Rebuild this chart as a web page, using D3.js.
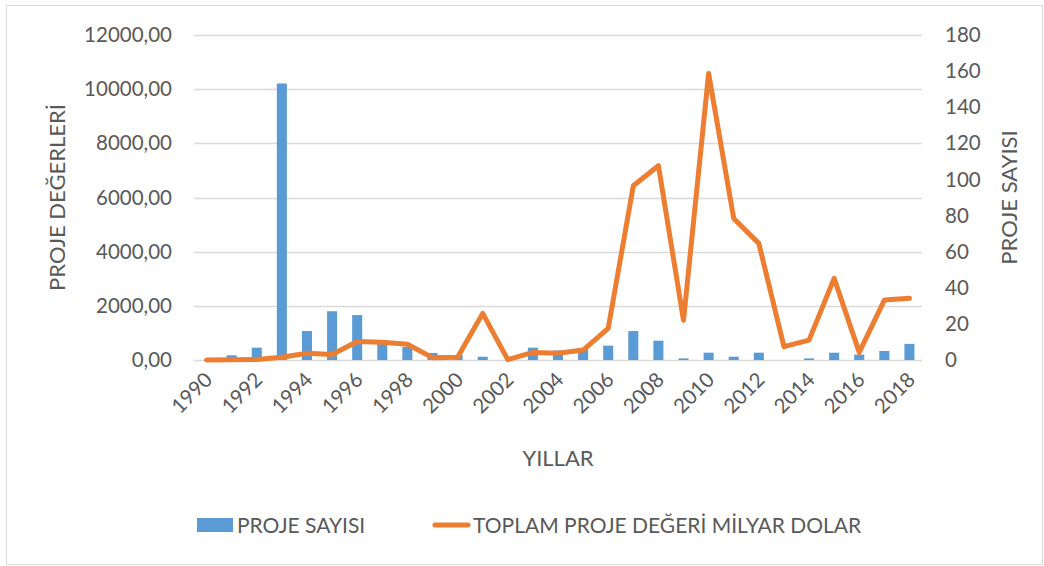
<!DOCTYPE html>
<html>
<head>
<meta charset="utf-8">
<script src="https://cdn.jsdelivr.net/npm/d3@7"></script>
<style>
  html, body { margin: 0; padding: 0; background: #fff; }
  svg text { font-family: "Lato", "Open Sans", sans-serif; fill: #595959; }
</style>
</head>
<body>
<svg id="chart" width="1044" height="566"></svg>
<script>
const years = ["1990","1991","1992","1993","1994","1995","1996","1997","1998","1999",
               "2000","2001","2002","2003","2004","2005","2006","2007","2008","2009",
               "2010","2011","2012","2013","2014","2015","2016","2017","2018"];
// Bars: PROJE SAYISI (left axis)
const projeSayisi = [0, 175, 455, 10210, 1070, 1800, 1660, 620, 480, 260,
                     180, 120, 0, 455, 350, 400, 530, 1070, 713, 60,
                     270, 120, 270, 0, 60, 270, 200, 333, 595];
// Line: TOPLAM PROJE DEĞERİ MİLYAR DOLAR (right axis)
const toplamDeger = [0, 0.2, 0.3, 1.5, 3.7, 3.1, 10.2, 9.8, 8.7, 1.3,
                     1.5, 25.8, 0.2, 4.2, 3.7, 5.5, 17.5, 96.5, 107.6, 22,
                     158.7, 78.4, 64.6, 7.4, 11, 45.2, 4.2, 33.2, 34.2];
const leftTicks = [0, 2000, 4000, 6000, 8000, 10000, 12000];
const rightTicks = [0, 20, 40, 60, 80, 100, 120, 140, 160, 180];
const xLabelYears = years.filter((d, i) => i % 2 === 0);
const seriesNames = ["PROJE SAYISI", "TOPLAM PROJE DEĞERİ MİLYAR DOLAR"];
const axisTitles = { left: "PROJE DEĞERLERİ", right: "PROJE SAYISI", bottom: "YILLAR" };

const svg = d3.select("#chart");
const plot = { left: 194, right: 922, top: 35, bottom: 360 };

// chart border
svg.append("rect").attr("x", 6.5).attr("y", 5.5).attr("width", 1036).attr("height", 559)
  .attr("fill", "#fff").attr("stroke", "#D9D9D9").attr("stroke-width", 1);

const x = d3.scaleBand().domain(years).range([plot.left, plot.right])
  .paddingInner(0.6).paddingOuter(0.3);
const yL = d3.scaleLinear().domain([0, 12000]).range([plot.bottom, plot.top]);
const yR = d3.scaleLinear().domain([0, 180]).range([plot.bottom, plot.top]);

const fmtLeft = d => d3.format(".2f")(d).replace(".", ",");

// gridlines (from left axis)
svg.append("g").selectAll("line").data(leftTicks).join("line")
  .attr("x1", plot.left).attr("x2", plot.right)
  .attr("y1", d => Math.round(yL(d)) + 0.5).attr("y2", d => Math.round(yL(d)) + 0.5)
  .attr("stroke", "#D9D9D9").attr("stroke-width", 1.3);

// left axis labels
const gL = svg.append("g").attr("transform", `translate(${plot.left - 22},0)`)
  .call(d3.axisLeft(yL).tickValues(leftTicks).tickFormat(fmtLeft).tickSize(0).tickPadding(0));
gL.select(".domain").remove();
gL.selectAll("text").attr("font-size", 20.5).style("fill", "#595959")
  .style("font-family", "Lato, 'Open Sans', sans-serif");

// right axis labels
const gR = svg.append("g").attr("transform", `translate(${plot.right + 23},0)`)
  .call(d3.axisRight(yR).tickValues(rightTicks).tickFormat(d3.format("d")).tickSize(0).tickPadding(0));
gR.select(".domain").remove();
gR.selectAll("text").attr("font-size", 20.5).style("fill", "#595959")
  .style("font-family", "Lato, 'Open Sans', sans-serif");

// bars
svg.append("g").selectAll("rect").data(years).join("rect")
  .attr("x", d => x(d))
  .attr("width", x.bandwidth())
  .attr("y", (d, i) => yL(projeSayisi[i]))
  .attr("height", (d, i) => plot.bottom - yL(projeSayisi[i]))
  .attr("fill", "#5B9BD5");

// line
const line = d3.line()
  .x((d, i) => x(years[i]) + x.bandwidth() / 2)
  .y(d => yR(d));
svg.append("path").datum(toplamDeger)
  .attr("d", line)
  .attr("fill", "none").attr("stroke", "#ED7D31").attr("stroke-width", 5)
  .attr("stroke-linejoin", "round").attr("stroke-linecap", "round");

// x tick labels
svg.append("g").selectAll("text").data(xLabelYears).join("text")
  .attr("transform", d => `translate(${x(d) + x.bandwidth() / 2 + 7},${plot.bottom + 21}) rotate(-45)`)
  .attr("text-anchor", "end")
  .attr("font-size", 20.5)
  .text(d => d);

// axis titles
svg.append("text")
  .attr("transform", `translate(65,${(plot.top + plot.bottom) / 2}) rotate(-90)`)
  .attr("text-anchor", "middle").attr("font-size", 22).text(axisTitles.left);
svg.append("text")
  .attr("transform", `translate(1017,${(plot.top + plot.bottom) / 2}) rotate(-90)`)
  .attr("text-anchor", "middle").attr("font-size", 22).text(axisTitles.right);
svg.append("text")
  .attr("x", (plot.left + plot.right) / 2).attr("y", 466)
  .attr("text-anchor", "middle").attr("font-size", 22).text(axisTitles.bottom);

// legend
const leg = svg.append("g");
leg.append("rect").attr("x", 197).attr("y", 518).attr("width", 36).attr("height", 14).attr("fill", "#5B9BD5");
leg.append("text").attr("x", 237).attr("y", 533).attr("font-size", 21).text(seriesNames[0]);
leg.append("line").attr("x1", 435).attr("x2", 468).attr("y1", 525).attr("y2", 525)
  .attr("stroke", "#ED7D31").attr("stroke-width", 5).attr("stroke-linecap", "round");
leg.append("text").attr("x", 473).attr("y", 533).attr("font-size", 21).text(seriesNames[1]);
</script>
</body>
</html>
